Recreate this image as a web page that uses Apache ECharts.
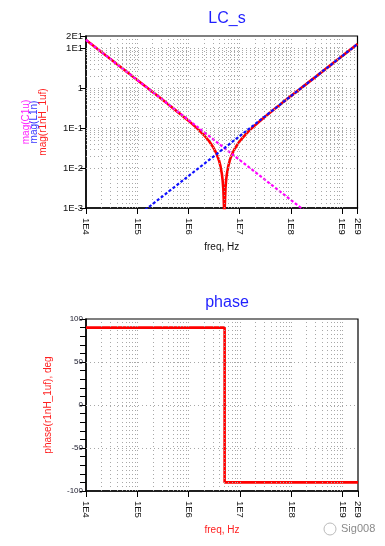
<!DOCTYPE html>
<html><head><meta charset="utf-8">
<script src="https://cdn.jsdelivr.net/npm/echarts@6/dist/echarts.min.js"></script>
<style>html,body{margin:0;padding:0;background:#fff}#c{width:385px;height:546px}</style>
</head><body><div id="c"></div>
<script>
// Top plot: LC_s (log-log magnitude)
const freqC = [1e4, 1e5, 1e6, 1e7, 1e8, 1e9];
const magC1u = [15.9, 1.59, 0.159, 0.0159, 0.00159, 0.000159];
const freqL = [1e5, 1e6, 1e7, 1e8, 1e9, 2e9];
const magL1n = [0.000628, 0.00628, 0.0628, 0.628, 6.28, 12.57];
const freqR = [1e4, 3e4, 1e5, 3e5, 1e6, 1.5e6, 2e6, 2.5e6, 3e6, 3.5e6, 4e6, 4.2e6, 4.5e6, 4.65e6, 4.8e6, 4.95e6, 5.0e6, 5.03e6, 5.07e6, 5.12e6, 5.3e6, 5.45e6, 5.6e6, 6e6, 6.5e6, 7e6, 8e6, 1e7, 1.5e7, 2e7, 3e7, 5e7, 1e8, 1e9, 2e9];
const magR = [15.9, 5.3, 1.59, 0.529, 0.153, 0.0967, 0.067, 0.048, 0.0342, 0.0235, 0.0147, 0.0115, 0.0071, 0.005, 0.003, 0.00105, 0.00041, 0.00001, 0.00047, 0.00109, 0.00327, 0.00504, 0.00677, 0.0112, 0.0164, 0.0212, 0.0304, 0.0469, 0.0836, 0.118, 0.183, 0.311, 0.627, 6.28, 12.57];
// Bottom plot: phase
const freqP = [1e4, 5.03e6, 5.03e6, 2e9];
const phaseP = [90, 90, -90, -90];
// Axis ranges / ticks
const xMin = 1e4, xMax = 2e9;
const yMagMin = 1e-3, yMagMax = 20;
const phaseTickLabels = [100, 50, 0, -50, -100];
const phaseGridLines = [50, 0, -50];
const magNames = ['mag(r1nH_1uf)', 'mag(L1n)', 'mag(C1u)'];
const magNameColors = ['#ff2020', '#3333ff', '#ff22ff'];

function pair(xs, ys){ return xs.map((x,i)=>[x, ys[i]]); }
function logLabel(v, unitOne){
  const e = Math.floor(Math.log10(v) + 1e-9);
  const m = Math.round(v / Math.pow(10, e));
  if (e === 0 && m === 1 && unitOne) return '1';
  return m + 'E' + e;
}
// grid-line positions (1..9 per decade)
function decadeLines(lo, hi){
  const out = [];
  for (let e = Math.floor(Math.log10(lo)); e <= Math.ceil(Math.log10(hi)); e++){
    for (let k = 1; k <= 9; k++){
      const v = k * Math.pow(10, e);
      if (v > lo * 1.0001 && v < hi * 0.9999) out.push(v);
    }
  }
  return out;
}
const gridStyle = {type:[1,3], color:'#a8a8a8', width:1};
function ml(dataArr){
  return {silent:true, symbol:'none', animation:false, label:{show:false},
    lineStyle:gridStyle, emphasis:{disabled:true}, data:dataArr};
}
const FONT = 'Liberation Sans, Arial, sans-serif';
const axisLab = {fontSize:9.5, color:'#111', fontFamily:FONT};
const nameGaps = [38, 46.5, 55];

const magNameAxes = magNames.map((n,i)=>({
  gridIndex:0, type:'log', logBase:10, min:yMagMin, max:yMagMax, position:'left',
  name:n, nameLocation:'middle', nameGap:nameGaps[i], nameRotate:90,
  nameTextStyle:{color:magNameColors[i], fontSize:10, fontFamily:FONT},
  axisLine:{show:false}, axisTick:{show:false}, axisLabel:{show:false}, splitLine:{show:false}
}));

function freqAxis(gi, nameColor){
  return {gridIndex:gi, type:'log', logBase:10, min:xMin, max:xMax, interval:1,
    name:'freq, Hz', nameLocation:'middle', nameGap:34,
    nameTextStyle:{color:nameColor, fontSize:10, fontFamily:FONT},
    axisLine:{onZero:false, lineStyle:{color:'#000', width:1.5}},
    axisTick:{length:6, lineStyle:{color:'#000', width:1}},
    axisLabel:Object.assign({rotate:-90, margin:10, formatter:v=>logLabel(v,false), showMaxLabel:true, showMinLabel:true}, axisLab),
    splitLine:{show:false}};
}

const chart = echarts.init(document.getElementById('c'), null, {renderer:'canvas'});
chart.setOption({
  animation:false,
  backgroundColor:'#fff',
  title:[
    {text:'LC_s', left:222, top:6, textAlign:'center', textStyle:{color:'#1f1fff', fontSize:16, fontWeight:'normal', fontFamily:FONT}},
    {text:'phase', left:222, top:290, textAlign:'center', textStyle:{color:'#1f1fff', fontSize:16, fontWeight:'normal', fontFamily:FONT}}
  ],
  graphic:[
    {type:'text', left:341, top:523, style:{text:'Sig008', fill:'#8a8a8a', font:'11px '+FONT}},
    {type:'circle', shape:{cx:330, cy:529, r:6}, style:{fill:'none', stroke:'#bbb', lineWidth:1}}
  ],
  grid:[
    {left:86, top:36, width:271.5, height:172, show:true, borderColor:'#000', borderWidth:1.2, backgroundColor:'transparent'},
    {left:86, top:319, width:272, height:172, show:true, borderColor:'#000', borderWidth:1.2, backgroundColor:'transparent'}
  ],
  xAxis:[freqAxis(0, '#111'), freqAxis(1, '#ff2020')],
  yAxis:[
    {gridIndex:0, type:'log', logBase:10, min:yMagMin, max:yMagMax, interval:1, position:'left',
     axisLine:{show:true, onZero:false, lineStyle:{color:'#000', width:1.5}},
     axisTick:{show:true, length:6, lineStyle:{color:'#000', width:1}},
     axisLabel:Object.assign({margin:3, formatter:v=>logLabel(v,true), showMaxLabel:true, showMinLabel:true}, axisLab),
     splitLine:{show:false}},
    {gridIndex:1, type:'value', min:-100, max:100, interval:10,
     name:'phase(r1nH_1uf), deg', nameLocation:'middle', nameGap:33, nameRotate:90,
     nameTextStyle:{color:'#ff2020', fontSize:10, fontFamily:FONT},
     axisLine:{show:true, onZero:false, lineStyle:{color:'#000', width:1.5}},
     axisTick:{show:true, length:6, lineStyle:{color:'#000', width:1}},
     axisLabel:Object.assign({}, axisLab, {margin:3, fontSize:8, color:'#223', formatter:v=>(phaseTickLabels.indexOf(v)>=0? String(v):'')}),
     splitLine:{show:false}}
  ].concat(magNameAxes),
  series:[
    {type:'line', xAxisIndex:0, yAxisIndex:0, data:[], z:1, silent:true,
     markLine:ml(decadeLines(xMin,xMax).map(v=>({xAxis:v})).concat(decadeLines(yMagMin,yMagMax).map(v=>({yAxis:v}))))},
    {type:'line', xAxisIndex:1, yAxisIndex:1, data:[], z:1, silent:true,
     markLine:ml(decadeLines(xMin,xMax).map(v=>({xAxis:v})).concat(phaseGridLines.map(v=>({yAxis:v}))))},
    {name:'mag(r1nH_1uf)', type:'line', xAxisIndex:0, yAxisIndex:0, data:pair(freqR,magR), symbol:'none', clip:true, z:3,
     lineStyle:{color:'#ff0000', width:2.6}},
    {name:'mag(C1u)', type:'line', xAxisIndex:0, yAxisIndex:0, data:pair(freqC,magC1u), symbol:'none', clip:true, z:4,
     lineStyle:{color:'#ff00ff', width:2.2, type:[3,2]}},
    {name:'mag(L1n)', type:'line', xAxisIndex:0, yAxisIndex:0, data:pair(freqL,magL1n), symbol:'none', clip:true, z:5,
     lineStyle:{color:'#1010ff', width:2.2, type:[3,2]}},
    {name:'phase', type:'line', xAxisIndex:1, yAxisIndex:1, data:pair(freqP,phaseP), symbol:'none', clip:true, z:3,
     lineStyle:{color:'#ff0000', width:2.6}}
  ]
});
</script></body></html>
